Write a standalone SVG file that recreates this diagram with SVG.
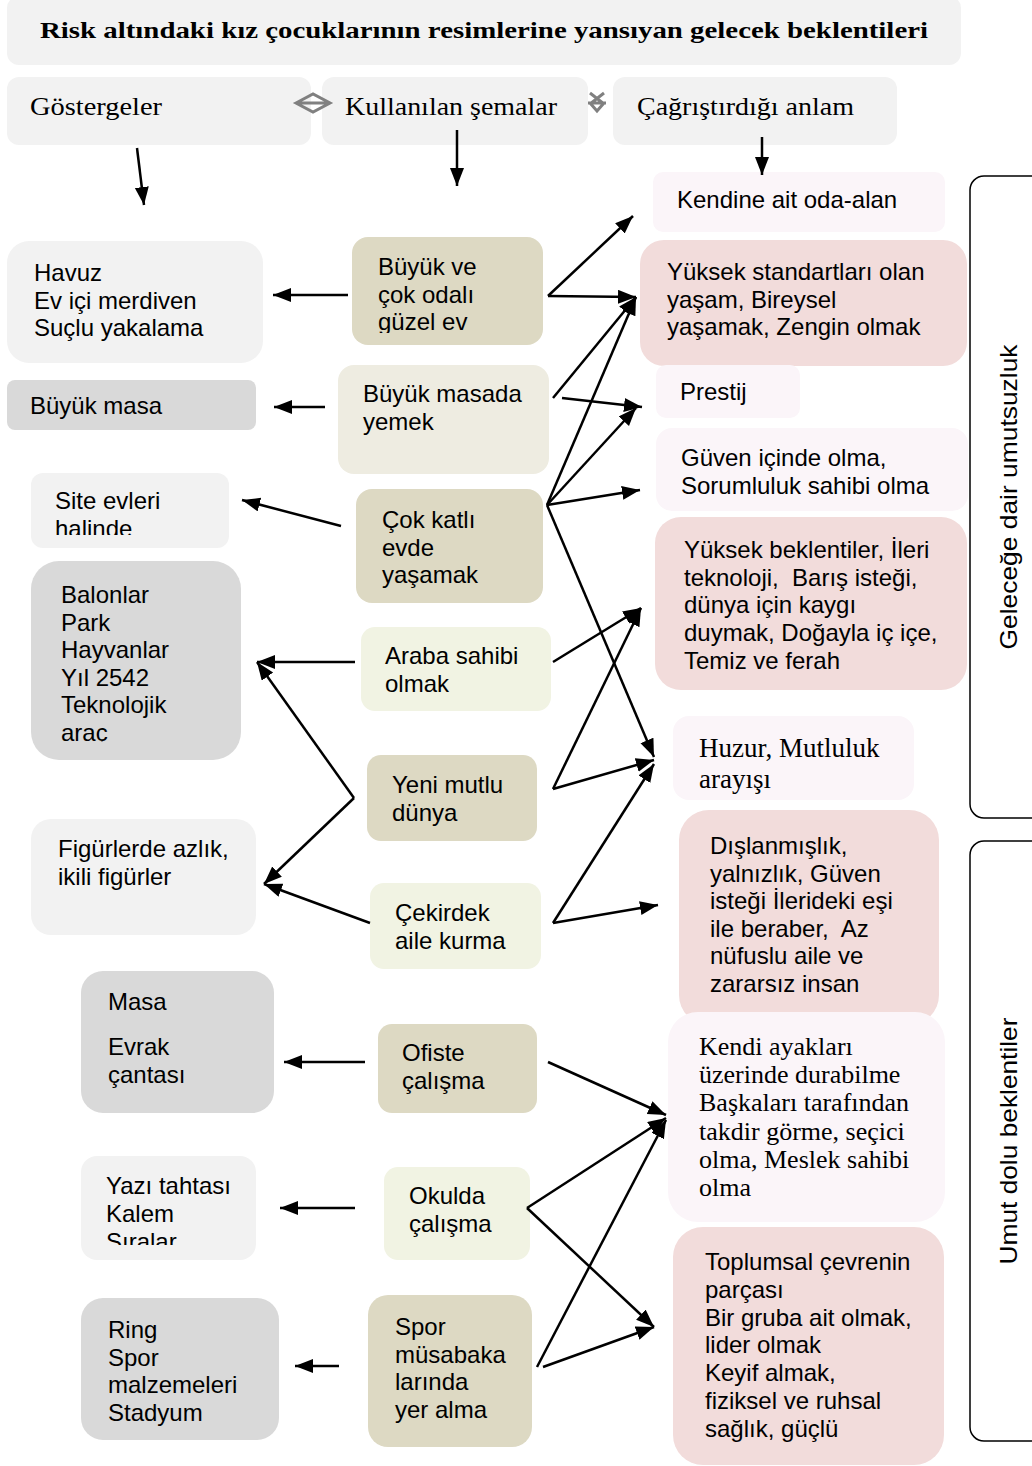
<svg xmlns="http://www.w3.org/2000/svg" width="1032" height="1466" viewBox="0 0 1032 1466">
<style>
.t{font-family:"Liberation Sans",Arial,sans-serif;font-size:24px;fill:#000}
.s{font-family:"Liberation Serif","Times New Roman",serif;fill:#000}
.hd{font-size:26px}
.pre{white-space:pre}
.lg{fill:#f2f2f2}
.dg{fill:#d9d9d9}
.tan{fill:#ddd9c3}
.ltan{fill:#eeece1}
.grn{fill:#f1f3e3}
.pk{fill:#f2dcdb}
.lpk{fill:#fbf5f9}
.cn line{stroke:#000;stroke-width:2.5;marker-end:url(#ah)}
.sym{fill:none;stroke:#808080;stroke-width:3}
.br{fill:none;stroke:#000;stroke-width:1.5}
</style>
<defs>
<marker id="ah" markerWidth="20" markerHeight="16" refX="18" refY="7" orient="auto" markerUnits="userSpaceOnUse"><path d="M0,0 L18,7 L0,14 z" fill="#000"/></marker>
<clipPath id="cp1"><rect x="352" y="237" width="191" height="96"/></clipPath>
<clipPath id="cp2"><rect x="31" y="473" width="198" height="62"/></clipPath>
<clipPath id="cp3"><rect x="31" y="561" width="210" height="180.5"/></clipPath>
<clipPath id="cp4"><rect x="81" y="1156" width="175" height="89"/></clipPath>
</defs>

<g id="title">
<rect x="7" y="-4" width="954" height="69" rx="12" class="lg"/>
<text x="40" y="38" class="s" font-size="24" font-weight="bold" textLength="888" lengthAdjust="spacingAndGlyphs">Risk altındaki kız çocuklarının resimlerine yansıyan gelecek beklentileri</text>
</g>

<g id="h-gostergeler">
<rect x="7" y="77" width="304" height="68" rx="12" class="lg"/>
<text x="30" y="115" class="s hd" textLength="132" lengthAdjust="spacingAndGlyphs">Göstergeler</text>
</g>
<g id="h-semalar">
<rect x="322" y="77" width="266" height="68" rx="12" class="lg"/>
<text x="345" y="115" class="s hd" textLength="212" lengthAdjust="spacingAndGlyphs">Kullanılan şemalar</text>
</g>
<g id="h-anlam">
<rect x="613" y="77" width="284" height="68" rx="12" class="lg"/>
<text x="637" y="115" class="s hd" textLength="217" lengthAdjust="spacingAndGlyphs">Çağrıştırdığı anlam</text>
</g>
<g id="symbols">
<path class="sym" d="M296,103 L313,94 L330,103 L313,112 Z M296,103 L330,103"/>
<path class="sym" d="M590,93 L604,104 M604,93 L590,104 M588,103 L606,103 M590,103 L597,111 L604,103" stroke-width="2.5"/>
</g>

<!-- left column -->
<g id="n-havuz">
<rect x="7" y="241" width="256" height="122" rx="22" class="lg"/>
<text class="t"><tspan x="34" y="281">Havuz</tspan><tspan x="34" y="308.5">Ev içi merdiven</tspan><tspan x="34" y="336">Suçlu yakalama</tspan></text>
</g>
<g id="n-buyukmasa">
<rect x="7" y="380" width="249" height="50" rx="8" class="dg"/>
<text x="30" y="414" class="t">Büyük masa</text>
</g>
<g id="n-site">
<rect x="31" y="473" width="198" height="75" rx="12" class="lg"/>
<text class="t" clip-path="url(#cp2)"><tspan x="55" y="509">Site evleri</tspan><tspan x="55" y="537">halinde</tspan></text>
</g>
<g id="n-balonlar">
<rect x="31" y="561" width="210" height="199" rx="28" class="dg"/>
<text class="t" clip-path="url(#cp3)"><tspan x="61" y="603">Balonlar</tspan><tspan x="61" y="630.6">Park</tspan><tspan x="61" y="658.2">Hayvanlar</tspan><tspan x="61" y="685.8">Yıl 2542</tspan><tspan x="61" y="713.4">Teknolojik</tspan><tspan x="61" y="741">araç</tspan></text>
</g>
<g id="n-figur">
<rect x="31" y="819" width="225" height="116" rx="20" class="lg"/>
<text class="t"><tspan x="58" y="857">Figürlerde azlık,</tspan><tspan x="58" y="884.5">ikili figürler</tspan></text>
</g>
<g id="n-masa">
<rect x="81" y="971" width="193" height="142" rx="22" class="dg"/>
<text class="t"><tspan x="108" y="1010">Masa</tspan><tspan x="108" y="1055">Evrak</tspan><tspan x="108" y="1082.5">çantası</tspan></text>
</g>
<g id="n-yazi">
<rect x="81" y="1156" width="175" height="104" rx="16" class="lg"/>
<text class="t" clip-path="url(#cp4)"><tspan x="106" y="1194">Yazı tahtası</tspan><tspan x="106" y="1222">Kalem</tspan><tspan x="106" y="1250">Sıralar</tspan></text>
</g>
<g id="n-ring">
<rect x="81" y="1298" width="198" height="142" rx="22" class="dg"/>
<text class="t"><tspan x="108" y="1338">Ring</tspan><tspan x="108" y="1365.7">Spor</tspan><tspan x="108" y="1393.3">malzemeleri</tspan><tspan x="108" y="1421">Stadyum</tspan></text>
</g>

<!-- middle column -->
<g id="m-ev">
<rect x="352" y="237" width="191" height="108" rx="16" class="tan"/>
<text class="t" clip-path="url(#cp1)"><tspan x="378" y="275">Büyük ve</tspan><tspan x="378" y="302.5">çok odalı</tspan><tspan x="378" y="330">güzel ev</tspan></text>
</g>
<g id="m-masada">
<rect x="338" y="365" width="211" height="109" rx="16" class="ltan"/>
<text class="t"><tspan x="363" y="402">Büyük masada</tspan><tspan x="363" y="429.5">yemek</tspan></text>
</g>
<g id="m-cokkatli">
<rect x="356" y="489" width="187" height="114" rx="16" class="tan"/>
<text class="t"><tspan x="382" y="528">Çok katlı</tspan><tspan x="382" y="555.5">evde</tspan><tspan x="382" y="583">yaşamak</tspan></text>
</g>
<g id="m-araba">
<rect x="361" y="627" width="190" height="84" rx="14" class="grn"/>
<text class="t"><tspan x="385" y="664">Araba sahibi</tspan><tspan x="385" y="691.5">olmak</tspan></text>
</g>
<g id="m-yeni">
<rect x="367" y="755" width="170" height="86" rx="14" class="tan"/>
<text class="t"><tspan x="392" y="793">Yeni mutlu</tspan><tspan x="392" y="820.5">dünya</tspan></text>
</g>
<g id="m-cekirdek">
<rect x="370" y="883" width="171" height="86" rx="14" class="grn"/>
<text class="t"><tspan x="395" y="921">Çekirdek</tspan><tspan x="395" y="948.5">aile kurma</tspan></text>
</g>
<g id="m-ofis">
<rect x="378" y="1024" width="159" height="89" rx="14" class="tan"/>
<text class="t"><tspan x="402" y="1061">Ofiste</tspan><tspan x="402" y="1088.5">çalışma</tspan></text>
</g>
<g id="m-okul">
<rect x="384" y="1167" width="146" height="93" rx="14" class="grn"/>
<text class="t"><tspan x="409" y="1204">Okulda</tspan><tspan x="409" y="1231.5">çalışma</tspan></text>
</g>
<g id="m-spor">
<rect x="368" y="1295" width="164" height="152" rx="20" class="tan"/>
<text class="t"><tspan x="395" y="1335">Spor</tspan><tspan x="395" y="1362.5">müsabaka</tspan><tspan x="395" y="1390">larında</tspan><tspan x="395" y="1417.5">yer alma</tspan></text>
</g>

<!-- right column -->
<g id="r-kendine">
<rect x="653" y="172" width="292" height="60" rx="10" class="lpk"/>
<text x="677" y="208" class="t">Kendine ait oda-alan</text>
</g>
<g id="r-yuksek">
<rect x="640" y="240" width="327" height="126" rx="24" class="pk"/>
<text class="t"><tspan x="667" y="280">Yüksek standartları olan</tspan><tspan x="667" y="307.5">yaşam, Bireysel</tspan><tspan x="667" y="335">yaşamak, Zengin olmak</tspan></text>
</g>
<g id="r-prestij">
<rect x="656" y="365" width="144" height="53" rx="10" class="lpk"/>
<text x="680" y="400" class="t">Prestij</text>
</g>
<g id="r-guven">
<rect x="656" y="428" width="312" height="83" rx="16" class="lpk"/>
<text class="t"><tspan x="681" y="466">Güven içinde olma,</tspan><tspan x="681" y="493.5">Sorumluluk sahibi olma</tspan></text>
</g>
<g id="r-beklenti">
<rect x="655" y="517" width="312" height="173" rx="26" class="pk"/>
<text class="t pre"><tspan x="684" y="558">Yüksek beklentiler, İleri</tspan><tspan x="684" y="585.7">teknoloji,  Barış isteği,</tspan><tspan x="684" y="613.4">dünya için kaygı</tspan><tspan x="684" y="641.1">duymak, Doğayla iç içe,</tspan><tspan x="684" y="668.8">Temiz ve ferah</tspan></text>
</g>
<g id="r-huzur">
<rect x="673" y="716" width="241" height="84" rx="16" class="lpk"/>
<text class="s" font-size="27"><tspan x="699" y="757">Huzur, Mutluluk</tspan><tspan x="699" y="788">arayışı</tspan></text>
</g>
<g id="r-dislan">
<rect x="679" y="810" width="260" height="215" rx="30" class="pk"/>
<text class="t pre"><tspan x="710" y="854">Dışlanmışlık,</tspan><tspan x="710" y="881.6">yalnızlık, Güven</tspan><tspan x="710" y="909.2">isteği İlerideki eşi</tspan><tspan x="710" y="936.8">ile beraber,  Az</tspan><tspan x="710" y="964.4">nüfuslu aile ve</tspan><tspan x="710" y="992">zararsız insan</tspan></text>
</g>
<g id="r-kendi">
<rect x="668" y="1012" width="277" height="210" rx="30" class="lpk"/>
<text class="s" font-size="26"><tspan x="699" y="1055">Kendi ayakları</tspan><tspan x="699" y="1083.2">üzerinde durabilme</tspan><tspan x="699" y="1111.4">Başkaları tarafından</tspan><tspan x="699" y="1139.6">takdir görme, seçici</tspan><tspan x="699" y="1167.8">olma, Meslek sahibi</tspan><tspan x="699" y="1196">olma</tspan></text>
</g>
<g id="r-toplum">
<rect x="673" y="1227" width="271" height="238" rx="30" class="pk"/>
<text class="t"><tspan x="705" y="1270">Toplumsal çevrenin</tspan><tspan x="705" y="1297.8">parçası</tspan><tspan x="705" y="1325.6">Bir gruba ait olmak,</tspan><tspan x="705" y="1353.4">lider olmak</tspan><tspan x="705" y="1381.2">Keyif almak,</tspan><tspan x="705" y="1409">fiziksel ve ruhsal</tspan><tspan x="705" y="1436.8">sağlık, güçlü</tspan></text>
</g>

<!-- brackets -->
<g id="b-umutsuzluk">
<rect x="970" y="176" width="90" height="642" rx="14" class="br"/>
<text class="t" font-size="26" text-anchor="middle" textLength="305" lengthAdjust="spacingAndGlyphs" transform="translate(1017,497) rotate(-90)">Geleceğe dair umutsuzluk</text>
</g>
<g id="b-umut">
<rect x="970" y="841" width="90" height="600" rx="14" class="br"/>
<text class="t" font-size="26" text-anchor="middle" textLength="247" lengthAdjust="spacingAndGlyphs" transform="translate(1017,1141) rotate(-90)">Umut dolu beklentiler</text>
</g>

<g id="connectors" class="cn">
<line x1="137" y1="148" x2="144" y2="205"/>
<line x1="457" y1="130" x2="457" y2="186"/>
<line x1="762" y1="137" x2="762" y2="175"/>
<line x1="348" y1="295" x2="273" y2="295"/>
<line x1="325" y1="407" x2="274" y2="407"/>
<line x1="341" y1="526" x2="242" y2="500"/>
<line x1="355" y1="662" x2="257" y2="662"/>
<line x1="354" y1="798" x2="257" y2="662"/>
<line x1="354" y1="798" x2="264" y2="884"/>
<line x1="370" y1="923" x2="264" y2="884"/>
<line x1="365" y1="1062" x2="284" y2="1062"/>
<line x1="355" y1="1208" x2="280" y2="1208"/>
<line x1="339" y1="1366" x2="295" y2="1366"/>
<line x1="548" y1="296" x2="633" y2="216"/>
<line x1="548" y1="296" x2="636" y2="297"/>
<line x1="553" y1="398" x2="636" y2="297"/>
<line x1="562" y1="398" x2="642" y2="407"/>
<line x1="547" y1="505" x2="636" y2="297"/>
<line x1="547" y1="505" x2="636" y2="408"/>
<line x1="547" y1="505" x2="640" y2="490"/>
<line x1="547" y1="505" x2="654" y2="757"/>
<line x1="553" y1="662" x2="641" y2="608"/>
<line x1="553" y1="789" x2="641" y2="608"/>
<line x1="553" y1="789" x2="654" y2="760"/>
<line x1="553" y1="923" x2="654" y2="764"/>
<line x1="553" y1="923" x2="658" y2="905"/>
<line x1="548" y1="1062" x2="666" y2="1115"/>
<line x1="527" y1="1208" x2="666" y2="1118"/>
<line x1="527" y1="1208" x2="654" y2="1327"/>
<line x1="537" y1="1367" x2="666" y2="1120"/>
<line x1="543" y1="1367" x2="654" y2="1327"/>
</g>
</svg>
